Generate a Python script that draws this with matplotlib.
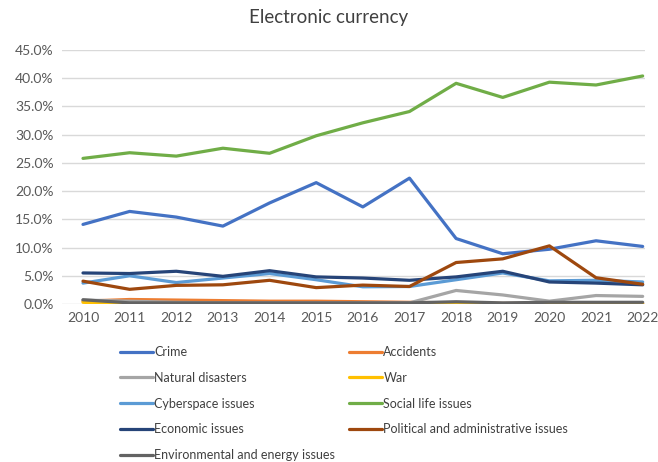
import matplotlib
matplotlib.use("Agg")
import matplotlib.pyplot as plt
from matplotlib.ticker import PercentFormatter

plt.rcParams['font.family'] = ['Lato', 'DejaVu Sans']

years = ['2010', '2011', '2012', '2013', '2014', '2015', '2016',
         '2017', '2018', '2019', '2020', '2021', '2022']

crime = [14.1, 16.4, 15.4, 13.8, 17.9, 21.5, 17.2, 22.3, 11.6, 8.9, 9.7, 11.2, 10.2]
accidents = [0.5, 0.8, 0.7, 0.6, 0.5, 0.5, 0.4, 0.3, 0.2, 0.1, 0.1, 0.1, 0.1]
natural = [0.7, 0.5, 0.3, 0.2, 0.2, 0.2, 0.2, 0.2, 2.4, 1.6, 0.5, 1.5, 1.35]
war = [0.3, 0.0, 0.0, 0.0, 0.0, 0.0, 0.0, 0.0, 0.1, 0.0, 0.0, 0.0, 0.0]
cyber = [3.7, 5.0, 3.8, 4.6, 5.4, 4.3, 3.05, 3.1, 4.3, 5.5, 4.1, 4.2, 3.9]
social = [25.8, 26.8, 26.2, 27.6, 26.7, 29.8, 32.1, 34.1, 39.1, 36.6, 39.3, 38.8, 40.4]
economic = [5.5, 5.4, 5.8, 4.9, 5.9, 4.8, 4.6, 4.2, 4.8, 5.8, 3.9, 3.7, 3.4]
political = [4.05, 2.6, 3.3, 3.4, 4.2, 2.9, 3.35, 3.1, 7.35, 8.0, 10.3, 4.65, 3.5]
environment = [0.75, 0.2, 0.2, 0.2, 0.2, 0.2, 0.2, 0.2, 0.4, 0.2, 0.3, 0.3, 0.3]

series = [
    ('Crime', crime, '#4472C4'),
    ('Accidents', accidents, '#ED7D31'),
    ('Natural disasters', natural, '#A5A5A5'),
    ('War', war, '#FFC000'),
    ('Cyberspace issues', cyber, '#5B9BD5'),
    ('Social life issues', social, '#70AD47'),
    ('Economic issues', economic, '#264478'),
    ('Political and administrative issues', political, '#9E480E'),
    ('Environmental and energy issues', environment, '#636363'),
]

fig = plt.figure(figsize=(6.58, 4.62), dpi=100)
ax = fig.add_axes([62 / 658, 1 - 304 / 462, 583 / 658, 254 / 462])

x = list(range(len(years)))
lines = {}
for name, vals, color in series:
    lines[name], = ax.plot(x, vals, color=color, lw=2.3, solid_capstyle='round',
                           solid_joinstyle='round', label=name)

ax.set_xlim(-0.45, 12.05)
ax.set_ylim(0, 45)
ax.set_yticks([i * 5 for i in range(10)])
ax.yaxis.set_major_formatter(PercentFormatter(decimals=1))
ax.set_xticks(x)
ax.set_xticklabels(years)
ax.grid(axis='y', color='#d9d9d9', lw=1)
ax.set_axisbelow(True)
for s in ax.spines.values():
    s.set_visible(False)
ax.tick_params(length=0, labelsize=10, colors='#595959', pad=6)

fig.text(0.5, 1 - 18 / 462, 'Electronic currency', ha='center', va='center',
         fontsize=13.5, color='#404040')

# row-major order in a two-column legend
order = ['Crime', 'Natural disasters', 'Cyberspace issues', 'Economic issues',
         'Environmental and energy issues', 'Accidents', 'War',
         'Social life issues', 'Political and administrative issues']
fig.legend([lines[n] for n in order], order, ncol=2, frameon=False,
           loc='upper left', bbox_to_anchor=(120 / 658, 1 - 346 / 462),
           fontsize=9, labelcolor='#404040', handlelength=2.6,
           handletextpad=0.15, columnspacing=1.1, labelspacing=1.1,
           borderaxespad=0, borderpad=0)

fig.savefig('out.png', dpi=100)
